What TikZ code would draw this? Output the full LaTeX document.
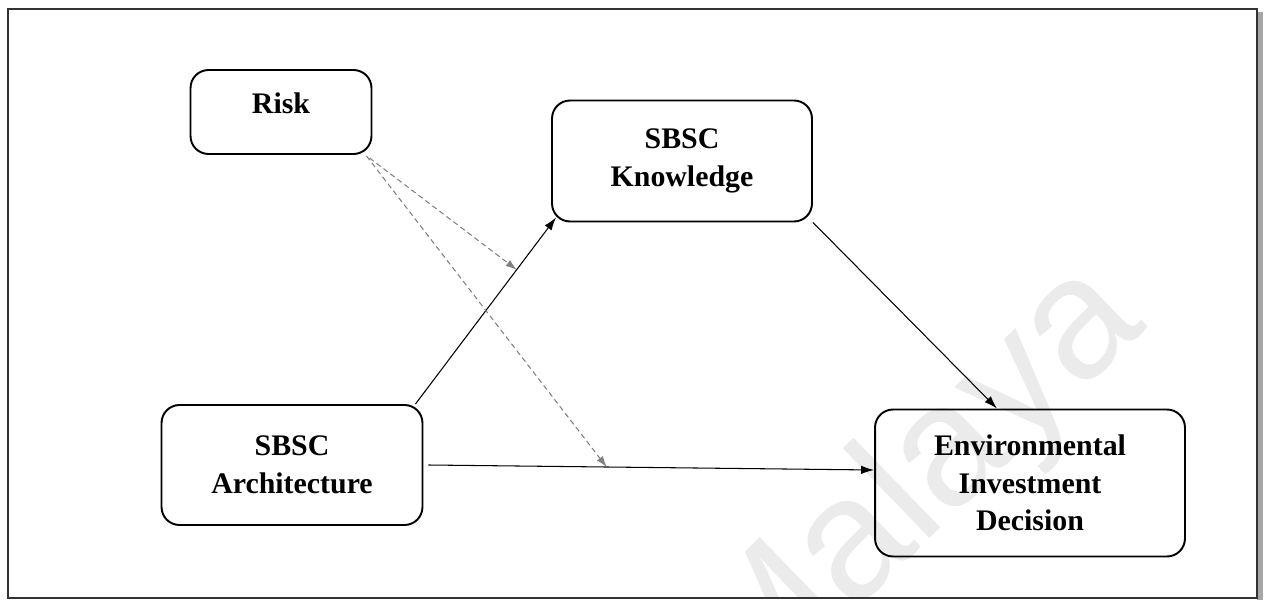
\documentclass[tikz,border=0pt]{standalone}
\usepackage{fontspec}
\setmainfont{Liberation Serif}
\newfontfamily\wmfont{Liberation Sans}
\usetikzlibrary{calc}
\usetikzlibrary{arrows.meta}

\begin{document}
\begin{tikzpicture}[x=0.02cm,y=-0.02cm,
  box/.style={draw, line width=1.1pt, rounded corners=0.36cm, align=center,
    font=\fontsize{17}{21.5}\selectfont\bfseries},
  arr/.style={-{Latex[length=2.6mm,width=1.7mm]}, line width=0.6pt},
  modarr/.style={-{Latex[length=2.2mm,width=1.5mm]}, gray, densely dashed, line width=0.6pt}]

\useasboundingbox (0,0) rectangle (1264,601);

% watermark
\begin{scope}
\clip (8,9) rectangle (1257,598);
\node[rotate=44, text=black!8, font=\wmfont\fontsize{98}{98}\selectfont] (wm) at (918,488) {Malaya};
\end{scope}

% frame
\fill[gray!70] (1257,12) rectangle (1263,600);
\draw[line width=0.6pt, black!80] (8,9) rectangle (1257,598);

% boxes
\node[box, minimum width=3.62cm, minimum height=1.68cm, text depth=0.36cm] (risk) at (281,112) {Risk};
\node[box, minimum width=5.2cm, minimum height=2.42cm] (know) at (682,161) {SBSC\\Knowledge};
\node[box, minimum width=5.22cm, minimum height=2.4cm] (arch) at (292,465) {SBSC\\Architecture};
\node[box, minimum width=6.2cm, minimum height=2.94cm] (eid) at (1030,483) {Environmental\\Investment\\Decision};

% direct paths
\coordinate (a1) at ([xshift=-0.16cm]arch.north east);
\coordinate (k1) at ([shift={(0.1cm,0.1cm)}]know.south west);
\coordinate (a2) at ([xshift=0.1cm]arch.east);
\coordinate (e2) at ([yshift=0.26cm]eid.west);
\draw[arr] (a1) -- (k1);
\draw[arr] (know.south east) -- ([xshift=-0.66cm]eid.north);
\draw[arr] (a2) -- (e2);

% moderation by risk
\coordinate (m1) at ($(a1)!0.72!(k1)$);
\coordinate (m2) at ($(a2)!0.40!(e2)$);
\draw[modarr] ([shift={(-0.06cm,-0.06cm)}]risk.south east) -- (m1);
\draw[modarr] ([shift={(-0.12cm,-0.02cm)}]risk.south east) -- (m2);

\end{tikzpicture}
\end{document}
